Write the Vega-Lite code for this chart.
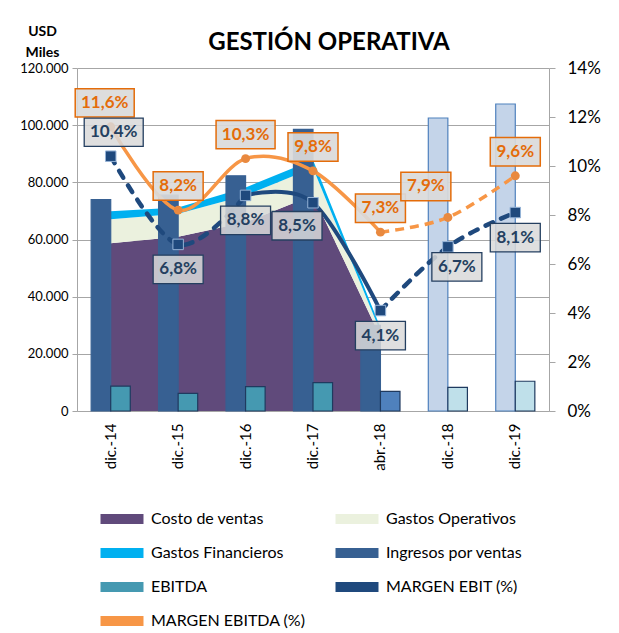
{
  "$schema": "https://vega.github.io/schema/vega-lite/v6.json",
  "width": 472,
  "height": 343,
  "autosize": "none",
  "padding": {"left": 77, "top": 68, "right": 70, "bottom": 222},
  "background": "white",
  "config": {
    "locale": {"number": {"decimal": ",", "thousands": ".", "grouping": [3], "currency": ["$", ""], "percent": "%"}},
    "font": "Lato",
    "view": {"stroke": null},
    "axis": {"domainColor": "#A6A6A6", "tickColor": "#A6A6A6", "gridColor": "#A6A6A6", "labelColor": "#000000", "labelFont": "Lato"}
  },
  "title": {"text": "GESTIÓN OPERATIVA", "fontSize": 24, "font": "Lato", "fontWeight": "bold", "color": "#000000", "anchor": "middle", "offset": -31, "dx": 16},
  "datasets": {
    "barras": [
      {"periodo": "dic.-14", "serie": "Ingresos por ventas", "valor": 74000, "tipo": "real"},
      {"periodo": "dic.-15", "serie": "Ingresos por ventas", "valor": 75500, "tipo": "real"},
      {"periodo": "dic.-16", "serie": "Ingresos por ventas", "valor": 82300, "tipo": "real"},
      {"periodo": "dic.-17", "serie": "Ingresos por ventas", "valor": 98500, "tipo": "real"},
      {"periodo": "abr.-18", "serie": "Ingresos por ventas", "valor": 30000, "tipo": "parcial"},
      {"periodo": "dic.-18", "serie": "Ingresos por ventas", "valor": 102500, "tipo": "proyectado"},
      {"periodo": "dic.-19", "serie": "Ingresos por ventas", "valor": 107400, "tipo": "proyectado"},
      {"periodo": "dic.-14", "serie": "EBITDA", "valor": 8700, "tipo": "real"},
      {"periodo": "dic.-15", "serie": "EBITDA", "valor": 6200, "tipo": "real"},
      {"periodo": "dic.-16", "serie": "EBITDA", "valor": 8500, "tipo": "real"},
      {"periodo": "dic.-17", "serie": "EBITDA", "valor": 9900, "tipo": "real"},
      {"periodo": "abr.-18", "serie": "EBITDA", "valor": 6900, "tipo": "parcial"},
      {"periodo": "dic.-18", "serie": "EBITDA", "valor": 8300, "tipo": "proyectado"},
      {"periodo": "dic.-19", "serie": "EBITDA", "valor": 10400, "tipo": "proyectado"}
    ],
    "areas": [
      {"periodo": "dic.-14", "serie": "Costo de ventas", "capa": 1, "valor": 58700},
      {"periodo": "dic.-15", "serie": "Costo de ventas", "capa": 1, "valor": 61000},
      {"periodo": "dic.-16", "serie": "Costo de ventas", "capa": 1, "valor": 66000},
      {"periodo": "dic.-17", "serie": "Costo de ventas", "capa": 1, "valor": 75500},
      {"periodo": "abr.-18", "serie": "Costo de ventas", "capa": 1, "valor": 25900},
      {"periodo": "dic.-14", "serie": "Gastos Operativos", "capa": 2, "valor": 8400},
      {"periodo": "dic.-15", "serie": "Gastos Operativos", "capa": 2, "valor": 8000},
      {"periodo": "dic.-16", "serie": "Gastos Operativos", "capa": 2, "valor": 9400},
      {"periodo": "dic.-17", "serie": "Gastos Operativos", "capa": 2, "valor": 9500},
      {"periodo": "abr.-18", "serie": "Gastos Operativos", "capa": 2, "valor": 1800},
      {"periodo": "dic.-14", "serie": "Gastos Financieros", "capa": 3, "valor": 2800},
      {"periodo": "dic.-15", "serie": "Gastos Financieros", "capa": 3, "valor": 2200},
      {"periodo": "dic.-16", "serie": "Gastos Financieros", "capa": 3, "valor": 2800},
      {"periodo": "dic.-17", "serie": "Gastos Financieros", "capa": 3, "valor": 2800},
      {"periodo": "abr.-18", "serie": "Gastos Financieros", "capa": 3, "valor": 1500}
    ],
    "margenes": [
      {"periodo": "dic.-14", "ebit": 0.104, "ebitda": 0.116},
      {"periodo": "dic.-15", "ebit": 0.068, "ebitda": 0.082},
      {"periodo": "dic.-16", "ebit": 0.088, "ebitda": 0.103},
      {"periodo": "dic.-17", "ebit": 0.085, "ebitda": 0.098},
      {"periodo": "abr.-18", "ebit": 0.041, "ebitda": 0.073},
      {"periodo": "dic.-18", "ebit": 0.067, "ebitda": 0.079},
      {"periodo": "dic.-19", "ebit": 0.081, "ebitda": 0.096}
    ]
  },
  "layer": [
    {
      "layer": [
        {
          "data": {"name": "areas"},
          "mark": {"type": "area", "interpolate": "linear"},
          "encoding": {
            "x": {"field": "periodo", "type": "nominal", "sort": null, "title": null, "scale": {"domain": ["dic.-14", "dic.-15", "dic.-16", "dic.-17", "abr.-18", "dic.-18", "dic.-19"], "paddingInner": 0.42, "paddingOuter": 0.21}},
            "y": {"field": "valor", "type": "quantitative", "stack": "zero", "title": ["USD", "Miles"], "scale": {"domain": [0, 120000]}},
            "color": {"field": "serie", "type": "nominal"},
            "order": {"field": "capa", "type": "quantitative"}
          }
        },
        {
          "data": {"name": "barras"},
          "mark": {"type": "bar", "strokeWidth": 1.2},
          "encoding": {
            "x": {"field": "periodo", "type": "nominal", "sort": null, "title": null, "scale": {"domain": ["dic.-14", "dic.-15", "dic.-16", "dic.-17", "abr.-18", "dic.-18", "dic.-19"], "paddingInner": 0.42, "paddingOuter": 0.21},
              "axis": {"title": null, "labelAngle": -90, "labelFontSize": 15, "labelPadding": 12, "ticks": false, "domainColor": "#A6A6A6", "labelColor": "#000000"}},
            "xOffset": {"field": "serie", "type": "nominal", "scale": {"domain": ["Ingresos por ventas", "EBITDA"], "paddingInner": 0, "paddingOuter": 0}},
            "y": {"field": "valor", "type": "quantitative", "title": ["USD", "Miles"], "scale": {"domain": [0, 120000]},
              "axis": {"title": ["USD", "Miles"], "titleAngle": 0, "titleX": -35, "titleY": -33, "titleAlign": "center", "titleBaseline": "alphabetic", "titleFontSize": 14, "titleFontWeight": "bold", "titleFont": "Lato", "titleColor": "#000000", "titleLineHeight": 21,
                "values": [0, 20000, 40000, 60000, 80000, 100000, 120000], "format": ",d", "labelFontSize": 13, "labelPadding": 4, "tickSize": 5, "grid": true, "gridColor": "#A6A6A6", "domainColor": "#A6A6A6", "tickColor": "#A6A6A6", "labelColor": "#000000"}},
            "color": {
              "condition": [
                {"test": "datum.tipo === 'proyectado' && datum.serie === 'EBITDA'", "value": "#BFE0EA"},
                {"test": "datum.tipo === 'proyectado'", "value": "#C4D4E9"},
                {"test": "datum.tipo === 'parcial' && datum.serie === 'EBITDA'", "value": "#4F81BD"}
              ],
              "field": "serie", "type": "nominal",
              "scale": {
                "domain": ["Costo de ventas", "Gastos Operativos", "Gastos Financieros", "Ingresos por ventas", "EBITDA", "MARGEN EBIT (%)", "MARGEN EBITDA (%)"],
                "range": ["#604A7B", "#EBF1DE", "#00B0F0", "#376092", "#4599B1", "#1F497D", "#F79646"]
              },
              "legend": {
                "orient": "none", "legendX": 34, "legendY": 440, "columns": 2, "direction": "horizontal", "title": null,
                "symbolSize": 462, "symbolType": "M-2,-0.47H2V0.47H-2Z", "symbolStrokeWidth": 0, "symbolOpacity": 1,
                "labelFontSize": 16, "labelFont": "Lato", "labelColor": "#000000", "labelOffset": 18, "rowPadding": 15, "columnPadding": 29, "labelLimit": 300
              }
            },
            "stroke": {
              "condition": [
                {"test": "datum.serie === 'EBITDA'", "value": "#1F3A5F"},
                {"test": "datum.tipo === 'proyectado'", "value": "#4F81BD"}
              ],
              "value": "#376092"
            }
          }
        }
      ]
    },
    {
      "data": {"name": "margenes"},
      "encoding": {
        "x": {"field": "periodo", "type": "nominal", "sort": null, "title": null}
      },
      "layer": [
        {
          "transform": [{"filter": {"field": "periodo", "oneOf": ["dic.-14", "dic.-15", "dic.-16", "dic.-17", "abr.-18"]}}],
          "mark": {"type": "line", "color": "#F79646", "strokeWidth": 3.5, "interpolate": "cardinal"},
          "encoding": {"y": {"field": "ebitda", "type": "quantitative", "title": null, "scale": {"domain": [0, 0.14]},
            "axis": {"orient": "right", "title": null, "values": [0, 0.02, 0.04, 0.06, 0.08, 0.1, 0.12, 0.14], "format": ".0%", "labelFontSize": 17, "labelPadding": 12, "tickSize": 6, "grid": false, "domainColor": "#A6A6A6", "tickColor": "#A6A6A6", "labelColor": "#000000"}}}
        },
        {
          "transform": [{"filter": {"field": "periodo", "oneOf": ["abr.-18", "dic.-18", "dic.-19"]}}],
          "mark": {"type": "line", "color": "#F79646", "strokeWidth": 3.5, "strokeDash": [9, 6], "interpolate": "cardinal"},
          "encoding": {"y": {"field": "ebitda", "type": "quantitative", "title": null, "scale": {"domain": [0, 0.14]}}}
        },
        {
          "transform": [{"filter": {"field": "periodo", "oneOf": ["dic.-14", "dic.-15", "dic.-16"]}}],
          "mark": {"type": "line", "color": "#1F497D", "strokeWidth": 4.5, "strokeDash": [8, 9], "strokeCap": "round", "interpolate": "cardinal"},
          "encoding": {"y": {"field": "ebit", "type": "quantitative", "title": null, "scale": {"domain": [0, 0.14]}}}
        },
        {
          "transform": [{"filter": {"field": "periodo", "oneOf": ["dic.-16", "dic.-17", "abr.-18"]}}],
          "mark": {"type": "line", "color": "#1F497D", "strokeWidth": 4, "interpolate": "cardinal"},
          "encoding": {"y": {"field": "ebit", "type": "quantitative", "title": null, "scale": {"domain": [0, 0.14]}}}
        },
        {
          "transform": [{"filter": {"field": "periodo", "oneOf": ["abr.-18", "dic.-18", "dic.-19"]}}],
          "mark": {"type": "line", "color": "#1F497D", "strokeWidth": 4.5, "strokeDash": [8, 9], "strokeCap": "round", "interpolate": "cardinal"},
          "encoding": {"y": {"field": "ebit", "type": "quantitative", "title": null, "scale": {"domain": [0, 0.14]}}}
        },
        {
          "mark": {"type": "point", "shape": "circle", "filled": true, "size": 80, "color": "#E9893F", "opacity": 1},
          "encoding": {"y": {"field": "ebitda", "type": "quantitative", "title": null, "scale": {"domain": [0, 0.14]}}}
        },
        {
          "mark": {"type": "point", "shape": "square", "filled": true, "size": 110, "fill": "#1F497D", "stroke": "#95B3D7", "strokeWidth": 1, "opacity": 1},
          "encoding": {"y": {"field": "ebit", "type": "quantitative", "title": null, "scale": {"domain": [0, 0.14]}}}
        },
        {
          "mark": {"type": "point", "filled": true, "fill": "#DADADA", "fillOpacity": 0.92, "stroke": "#E46C0A", "strokeWidth": 1.5, "strokeOpacity": 1,
            "xOffset": {"expr": "datum.periodo === 'dic.-18' ? -22 : datum.periodo === 'dic.-14' ? -6 : 0"},
            "yOffset": {"expr": "datum.periodo === 'dic.-18' ? -31 : -24"}},
          "encoding": {
            "y": {"field": "ebitda", "type": "quantitative", "title": null, "scale": {"domain": [0, 0.14]}},
            "shape": {"condition": {"test": "datum.ebitda >= 0.1", "value": "M-1,-0.48H1V0.48H-1Z"}, "value": "M-1,-0.57H1V0.57H-1Z"},
            "size": {"condition": {"test": "datum.ebitda >= 0.1", "value": 3481}, "value": 2500}
          }
        },
        {
          "mark": {"type": "text", "font": "Lato", "fontSize": 17, "fontWeight": "bold", "color": "#E46C0A", "baseline": "middle", "align": "center",
            "dx": {"expr": "datum.periodo === 'dic.-18' ? -22 : datum.periodo === 'dic.-14' ? -6 : 0"},
            "dy": {"expr": "datum.periodo === 'dic.-18' ? -31 : -24"}},
          "encoding": {
            "y": {"field": "ebitda", "type": "quantitative", "title": null, "scale": {"domain": [0, 0.14]}},
            "text": {"field": "ebitda", "type": "quantitative", "format": ".1%"}
          }
        },
        {
          "mark": {"type": "point", "filled": true, "fill": "#D9D9D9", "fillOpacity": 0.85, "stroke": "#243F60", "strokeWidth": 1.3, "strokeOpacity": 1,
            "xOffset": {"expr": "datum.periodo === 'dic.-17' ? -16 : datum.periodo === 'dic.-18' ? 9 : datum.periodo === 'dic.-14' ? 3 : 0"},
            "yOffset": {"expr": "datum.periodo === 'dic.-14' ? -24 : datum.periodo === 'dic.-18' ? 20 : datum.periodo === 'dic.-17' ? 23 : 25"}},
          "encoding": {
            "y": {"field": "ebit", "type": "quantitative", "title": null, "scale": {"domain": [0, 0.14]}},
            "shape": {"condition": {"test": "datum.ebit >= 0.1", "value": "M-1,-0.48H1V0.48H-1Z"}, "value": "M-1,-0.57H1V0.57H-1Z"},
            "size": {"condition": {"test": "datum.ebit >= 0.1", "value": 3481}, "value": 2500}
          }
        },
        {
          "mark": {"type": "text", "font": "Lato", "fontSize": 17, "fontWeight": "bold", "color": "#243F60", "baseline": "middle", "align": "center",
            "dx": {"expr": "datum.periodo === 'dic.-17' ? -16 : datum.periodo === 'dic.-18' ? 9 : datum.periodo === 'dic.-14' ? 3 : 0"},
            "dy": {"expr": "datum.periodo === 'dic.-14' ? -24 : datum.periodo === 'dic.-18' ? 20 : datum.periodo === 'dic.-17' ? 23 : 25"}},
          "encoding": {
            "y": {"field": "ebit", "type": "quantitative", "title": null, "scale": {"domain": [0, 0.14]}},
            "text": {"field": "ebit", "type": "quantitative", "format": ".1%"}
          }
        }
      ]
    }
  ],
  "resolve": {"scale": {"y": "independent"}}
}
